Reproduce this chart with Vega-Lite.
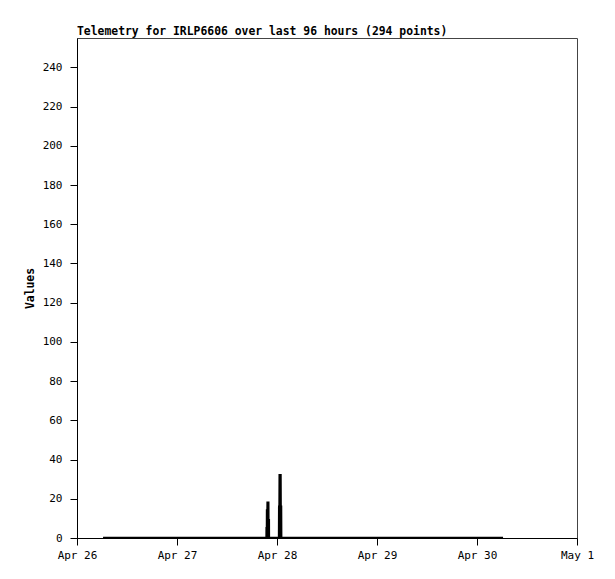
{
  "$schema": "https://vega.github.io/schema/vega-lite/v6.json",
  "width": 500,
  "height": 500,
  "autosize": {"type": "none"},
  "padding": {"left": 77, "top": 38, "right": 38, "bottom": 41},
  "background": "white",
  "title": {
    "text": "Telemetry for IRLP6606 over last 96 hours (294 points)",
    "anchor": "start",
    "frame": "group",
    "font": "DejaVu Sans Mono",
    "fontSize": 11.4,
    "fontWeight": "bold",
    "color": "black",
    "offset": 1
  },
  "config": {
    "view": {"stroke": "#444444", "strokeWidth": 1},
    "axis": {
      "domainColor": "black",
      "tickColor": "black",
      "tickSize": 7,
      "grid": false,
      "labelFont": "DejaVu Sans Mono",
      "labelFontSize": 11,
      "labelColor": "black",
      "titleFont": "DejaVu Sans Mono",
      "titleFontSize": 11.4,
      "titleFontWeight": "bold",
      "titleColor": "black"
    }
  },
  "data": {
    "values": [
      {"time": "2024-04-26T06:15:00Z", "value": 0},
      {"time": "2024-04-26T09:00:00Z", "value": 0},
      {"time": "2024-04-26T12:00:00Z", "value": 0},
      {"time": "2024-04-26T15:00:00Z", "value": 0},
      {"time": "2024-04-26T18:00:00Z", "value": 0},
      {"time": "2024-04-26T21:00:00Z", "value": 0},
      {"time": "2024-04-27T00:00:00Z", "value": 0},
      {"time": "2024-04-27T03:00:00Z", "value": 0},
      {"time": "2024-04-27T06:00:00Z", "value": 0},
      {"time": "2024-04-27T09:00:00Z", "value": 0},
      {"time": "2024-04-27T12:00:00Z", "value": 0},
      {"time": "2024-04-27T15:00:00Z", "value": 0},
      {"time": "2024-04-27T18:00:00Z", "value": 0},
      {"time": "2024-04-27T21:00:00Z", "value": 0},
      {"time": "2024-04-27T21:30:00Z", "value": 0},
      {"time": "2024-04-27T21:31:00Z", "value": 5},
      {"time": "2024-04-27T21:36:00Z", "value": 5},
      {"time": "2024-04-27T21:37:00Z", "value": 14},
      {"time": "2024-04-27T21:44:00Z", "value": 14},
      {"time": "2024-04-27T21:45:00Z", "value": 18},
      {"time": "2024-04-27T21:54:00Z", "value": 18},
      {"time": "2024-04-27T21:55:00Z", "value": 9},
      {"time": "2024-04-27T22:02:00Z", "value": 9},
      {"time": "2024-04-27T22:03:00Z", "value": 0},
      {"time": "2024-04-27T23:00:00Z", "value": 0},
      {"time": "2024-04-28T00:00:00Z", "value": 0},
      {"time": "2024-04-28T00:30:00Z", "value": 0},
      {"time": "2024-04-28T00:32:00Z", "value": 16},
      {"time": "2024-04-28T00:37:00Z", "value": 16},
      {"time": "2024-04-28T00:39:00Z", "value": 32},
      {"time": "2024-04-28T00:50:00Z", "value": 32},
      {"time": "2024-04-28T00:52:00Z", "value": 16},
      {"time": "2024-04-28T00:58:00Z", "value": 16},
      {"time": "2024-04-28T01:00:00Z", "value": 0},
      {"time": "2024-04-28T03:00:00Z", "value": 0},
      {"time": "2024-04-28T06:00:00Z", "value": 0},
      {"time": "2024-04-28T09:00:00Z", "value": 0},
      {"time": "2024-04-28T12:00:00Z", "value": 0},
      {"time": "2024-04-28T15:00:00Z", "value": 0},
      {"time": "2024-04-28T18:00:00Z", "value": 0},
      {"time": "2024-04-28T21:00:00Z", "value": 0},
      {"time": "2024-04-29T00:00:00Z", "value": 0},
      {"time": "2024-04-29T03:00:00Z", "value": 0},
      {"time": "2024-04-29T06:00:00Z", "value": 0},
      {"time": "2024-04-29T09:00:00Z", "value": 0},
      {"time": "2024-04-29T12:00:00Z", "value": 0},
      {"time": "2024-04-29T15:00:00Z", "value": 0},
      {"time": "2024-04-29T18:00:00Z", "value": 0},
      {"time": "2024-04-29T21:00:00Z", "value": 0},
      {"time": "2024-04-30T00:00:00Z", "value": 0},
      {"time": "2024-04-30T03:00:00Z", "value": 0},
      {"time": "2024-04-30T06:15:00Z", "value": 0}
    ]
  },
  "mark": {"type": "line", "color": "black", "strokeWidth": 2.5, "strokeJoin": "miter", "clip": true},
  "encoding": {
    "x": {
      "field": "time",
      "type": "temporal",
      "scale": {
        "type": "utc",
        "domain": [
          {"year": 2024, "month": 4, "date": 26, "utc": true},
          {"year": 2024, "month": 5, "date": 1, "utc": true}
        ]
      },
      "axis": {
        "title": null,
        "labelExpr": "utcFormat(datum.value, '%b %-d')",
        "values": [
          {"year": 2024, "month": 4, "date": 26, "utc": true},
          {"year": 2024, "month": 4, "date": 27, "utc": true},
          {"year": 2024, "month": 4, "date": 28, "utc": true},
          {"year": 2024, "month": 4, "date": 29, "utc": true},
          {"year": 2024, "month": 4, "date": 30, "utc": true},
          {"year": 2024, "month": 5, "date": 1, "utc": true}
        ],
        "labelPadding": 4,
        "labelFlush": false,
        "labelOverlap": false
      }
    },
    "y": {
      "field": "value",
      "type": "quantitative",
      "scale": {"domain": [0, 255], "nice": false, "zero": true},
      "axis": {
        "title": "Values",
        "values": [0, 20, 40, 60, 80, 100, 120, 140, 160, 180, 200, 220, 240],
        "labelPadding": 8,
        "titlePadding": 7
      }
    }
  }
}
